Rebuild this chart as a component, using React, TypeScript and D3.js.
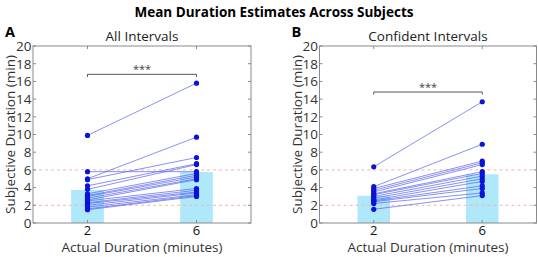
import React from "react";
import * as d3 from "d3";

const xCategories = [2, 6];
const yTicks = [0, 2, 4, 6, 8, 10, 12, 14, 16, 18, 20];
const refLines = [2, 6];

// Panel A: All Intervals (per-subject pairs: [2 min, 6 min])
const allShort = [9.9, 5.8, 5.0, 4.9, 4.2, 3.8, 3.3, 3.1, 3.0, 2.8, 2.6, 2.5, 2.3, 2.2, 2.0, 1.8, 1.6, 1.5];
const allLong = [15.8, 5.8, 9.7, 7.4, 6.7, 6.6, 5.6, 5.4, 5.2, 5.0, 4.9, 3.9, 3.7, 3.5, 3.4, 3.2, 3.1, 3.0];
const allMeans = [3.73, 5.76];
const allSig = 16.8;

// Panel B: Confident Intervals
const confShort = [6.35, 4.1, 3.9, 3.7, 3.5, 3.3, 3.2, 3.0, 2.8, 2.6, 2.5, 2.4, 2.2, 1.55];
const confLong = [13.7, 8.9, 7.0, 6.8, 6.6, 5.8, 5.6, 5.3, 5.0, 4.7, 4.2, 3.9, 3.4, 3.1];
const confMeans = [3.08, 5.5];
const confSig = 14.8;

const FONT = "'Open Sans', 'Noto Sans', sans-serif";

type PanelProps = {
  left: number;
  right: number;
  letter: string;
  title: string;
  short: number[];
  long: number[];
  means: number[];
  sig: number;
};

function Panel({ left, right, letter, title, short, long, means, sig }: PanelProps) {
  const top = 46;
  const bottom = 223;
  const x = d3.scaleLinear().domain([0, 8]).range([left, right]);
  const y = d3.scaleLinear().domain([0, 20]).range([bottom, top]);
  const barW = x(1.2) - x(0);
  const axisColor = "#8a8a8a";
  const cx = (left + right) / 2;
  const sigY = y(sig);
  return (
    <g>
      {xCategories.map((c, i) => (
        <rect
          key={"b" + i}
          x={x(c) - barW / 2}
          y={y(means[i])}
          width={barW}
          height={y(0) - y(means[i])}
          fill="#aee8fa"
        />
      ))}
      {refLines.map((v) => (
        <line
          key={"r" + v}
          x1={left}
          x2={right}
          y1={y(v)}
          y2={y(v)}
          stroke="#f2b4b4"
          strokeWidth={1}
          strokeDasharray="3,3"
        />
      ))}
      {short.map((s, i) => (
        <line
          key={"l" + i}
          x1={x(xCategories[0])}
          y1={y(s)}
          x2={x(xCategories[1])}
          y2={y(long[i])}
          stroke="#5a66ec"
          strokeOpacity={0.8}
          strokeWidth={0.9}
        />
      ))}
      {short.map((s, i) => (
        <circle key={"ps" + i} cx={x(xCategories[0])} cy={y(s)} r={2.6} fill="#0a14d8" />
      ))}
      {long.map((s, i) => (
        <circle key={"pl" + i} cx={x(xCategories[1])} cy={y(s)} r={2.6} fill="#0a14d8" />
      ))}
      <path
        d={`M${x(2)},${sigY + 2.5}V${sigY}H${x(6)}V${sigY + 2.5}`}
        fill="none"
        stroke="#555"
        strokeWidth={1}
      />
      <text x={cx} y={sigY - 1} textAnchor="middle" fontFamily={FONT} fontSize={11} fill="#444">
        ***
      </text>
      <rect x={left} y={top} width={right - left} height={bottom - top} fill="none" stroke={axisColor} strokeWidth={1} />
      {yTicks.map((t) => (
        <g key={"yt" + t}>
          <line x1={left} x2={left + 3} y1={y(t)} y2={y(t)} stroke={axisColor} />
          <line x1={right} x2={right - 3} y1={y(t)} y2={y(t)} stroke={axisColor} />
          <text
            x={left - 1.5}
            y={y(t)}
            dy="0.36em"
            textAnchor="end"
            fontFamily={FONT}
            fontSize={13.5}
            fill="#333"
          >
            {t}
          </text>
        </g>
      ))}
      {xCategories.map((c) => (
        <g key={"xt" + c}>
          <line x1={x(c)} x2={x(c)} y1={bottom} y2={bottom - 3} stroke={axisColor} />
          <line x1={x(c)} x2={x(c)} y1={top} y2={top + 3} stroke={axisColor} />
          <text x={x(c)} y={bottom + 12} textAnchor="middle" fontFamily={FONT} fontSize={13} fill="#111">
            {c}
          </text>
        </g>
      ))}
      <text x={cx} y={252} textAnchor="middle" fontFamily={FONT} fontSize={13.5} fill="#333">
        Actual Duration (minutes)
      </text>
      <text x={cx} y={41} textAnchor="middle" fontFamily={FONT} fontSize={13.5} fill="#222">
        {title}
      </text>
      <text
        transform={`translate(${left - 18},${(top + bottom) / 2}) rotate(-90)`}
        textAnchor="middle"
        fontFamily={FONT}
        fontSize={13.5}
        fill="#333"
      >
        Subjective Duration (min)
      </text>
      <text x={left - 28} y={37} fontFamily={FONT} fontSize={14.5} fontWeight="bold" fill="#000">
        {letter}
      </text>
    </g>
  );
}

export default function App() {
  return (
    <svg width={538} height={257} style={{ position: "absolute", left: 0, top: 0, background: "#fff" }}>
      <text x={274} y={17} textAnchor="middle" fontFamily={FONT} fontSize={13.5} fontWeight="bold" fill="#000">
        Mean Duration Estimates Across Subjects
      </text>
      <Panel left={33} right={251} letter="A" title="All Intervals" short={allShort} long={allLong} means={allMeans} sig={allSig} />
      <Panel left={319.5} right={536.5} letter="B" title="Confident Intervals" short={confShort} long={confLong} means={confMeans} sig={confSig} />
    </svg>
  );
}
